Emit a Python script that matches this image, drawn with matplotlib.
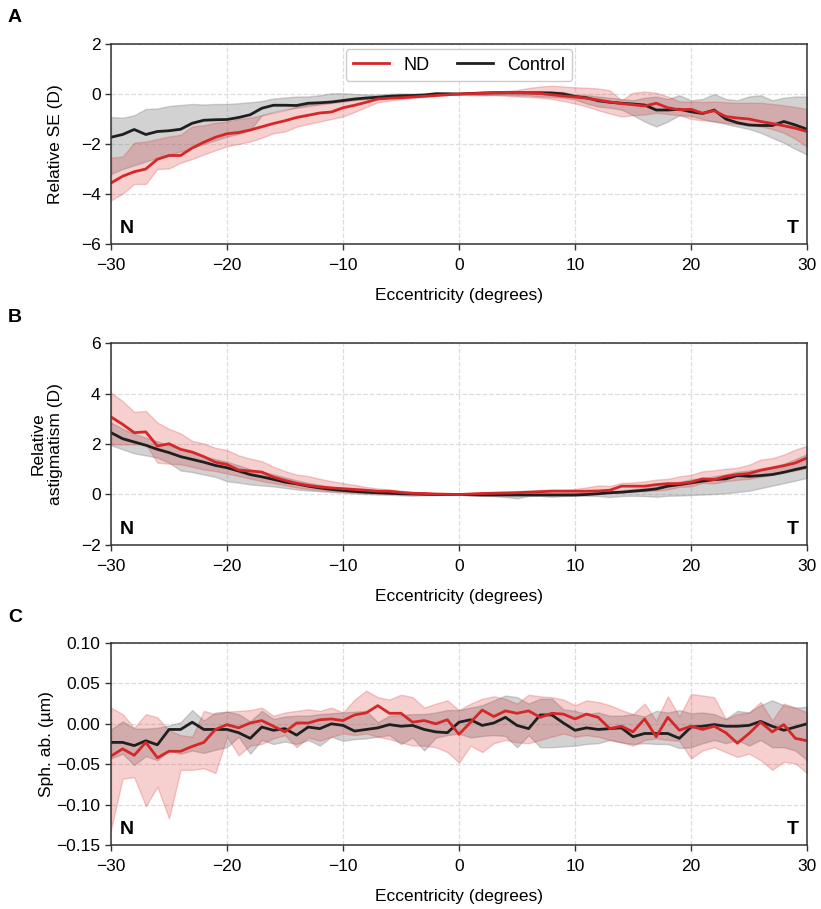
import numpy as np
import matplotlib
matplotlib.use("Agg")
import matplotlib.pyplot as plt

plt.rcParams['font.family'] = ['Liberation Sans', 'DejaVu Sans']

ecc = np.arange(-30, 31)

# panel A: relative spherical equivalent (D)
se_nd = [-3.56, -3.29, -3.11, -3.0, -2.61, -2.46, -2.46, -2.16, -1.93, -1.73, -1.59, -1.54, -1.44, -1.31, -1.18, -1.07,
         -0.94, -0.85, -0.76, -0.72, -0.55, -0.45, -0.33, -0.2, -0.17, -0.15, -0.12, -0.09, -0.06, -0.03, 0.0,
         0.01, 0.03, 0.04, 0.05, 0.05, 0.04, 0.02, -0.03, -0.08, -0.12, -0.17, -0.24, -0.32, -0.38, -0.43,
         -0.48, -0.37, -0.55, -0.63, -0.61, -0.77, -0.67, -0.9, -0.96, -1.0, -1.1, -1.18, -1.27, -1.37, -1.5]
se_nd_lo = [-4.25, -3.99, -3.6, -3.6, -3.0, -2.98, -2.75, -2.6, -2.42, -2.25, -2.09, -2.0, -1.9, -1.75, -1.57, -1.5,
            -1.31, -1.2, -1.1, -1.0, -0.9, -0.72, -0.52, -0.33, -0.27, -0.2, -0.16, -0.12, -0.08, -0.04, 0.0,
            -0.02, -0.04, -0.05, -0.07, -0.1, -0.12, -0.15, -0.2, -0.28, -0.38, -0.5, -0.65, -0.78, -0.9, -0.85,
            -0.82, -0.75, -0.8, -0.85, -1.0, -1.05, -1.1, -1.15, -1.2, -1.25, -1.3, -1.4, -1.55, -1.8, -2.1]
se_nd_hi = [-2.55, -2.5, -1.95, -1.9, -1.8, -1.7, -1.63, -1.3, -1.25, -1.15, -1.1, -1.0, -0.95, -0.85, -0.75, -0.65,
            -0.5, -0.4, -0.35, -0.3, -0.25, -0.2, -0.15, -0.1, -0.08, -0.06, -0.04, -0.02, -0.01, 0.0, 0.0,
            0.03, 0.06, 0.09, 0.12, 0.16, 0.24, 0.3, 0.33, 0.3, 0.27, 0.25, 0.22, 0.15, -0.25, 0.05,
            0.1, 0.05, -0.1, -0.3, -0.3, -0.32, -0.3, -0.33, -0.35, -0.35, -0.35, -0.4, -0.45, -0.52, -0.6]
se_ct = [-1.73, -1.62, -1.42, -1.62, -1.5, -1.47, -1.41, -1.17, -1.05, -1.03, -1.02, -0.94, -0.83, -0.57, -0.45, -0.45,
         -0.46, -0.37, -0.35, -0.32, -0.26, -0.2, -0.16, -0.13, -0.09, -0.07, -0.06, -0.04, 0.01, 0.01, 0.0,
         0.02, 0.04, 0.05, 0.05, 0.05, 0.05, 0.05, 0.04, 0.0, -0.1, -0.15, -0.27, -0.33, -0.37, -0.4,
         -0.44, -0.64, -0.64, -0.61, -0.71, -0.78, -0.64, -1.0, -1.15, -1.24, -1.26, -1.26, -1.1, -1.24, -1.41]
se_ct_lo = [-3.2, -3.0, -2.85, -2.7, -2.55, -2.42, -2.3, -2.15, -2.0, -1.85, -1.7, -1.6, -1.45, -0.85, -0.72, -0.62,
            -0.55, -0.48, -0.42, -0.36, -0.3, -0.25, -0.2, -0.15, -0.12, -0.1, -0.08, -0.06, -0.04, -0.02, 0.0,
            -0.05, -0.05, -0.03, -0.03, -0.05, -0.06, -0.1, -0.12, -0.15, -0.22, -0.38, -0.5, -0.55, -0.62, -0.85,
            -1.1, -1.3, -1.1, -0.85, -0.88, -1.0, -1.1, -1.2, -1.3, -1.4, -1.55, -1.75, -1.95, -2.2, -2.42]
se_ct_hi = [-0.92, -0.95, -0.85, -0.6, -0.58, -0.48, -0.44, -0.4, -0.42, -0.4, -0.4, -0.37, -0.33, -0.28, -0.18, -0.14,
            -0.1, -0.1, -0.05, 0.03, 0.03, 0.0, -0.02, -0.02, 0.0, 0.02, 0.01, 0.02, 0.05, 0.02, 0.0,
            0.06, 0.08, 0.1, 0.1, 0.1, 0.1, 0.1, 0.1, 0.08, -0.02, -0.05, -0.1, -0.15, -0.2, -0.25,
            -0.15, -0.1, -0.2, -0.05, -0.25, -0.2, 0.0, -0.2, -0.25, -0.1, -0.05, -0.25, -0.15, -0.1, -0.1]

# panel B: relative astigmatism (D)
ast_nd = [3.07, 2.78, 2.45, 2.48, 1.92, 2.01, 1.79, 1.68, 1.5, 1.28, 1.19, 0.97, 0.93, 0.89, 0.69, 0.56,
          0.44, 0.36, 0.3, 0.26, 0.23, 0.2, 0.17, 0.13, 0.13, 0.08, 0.05, 0.04, 0.02, 0.01, 0.0,
          0.02, 0.04, 0.05, 0.06, 0.07, 0.09, 0.11, 0.13, 0.13, 0.13, 0.13, 0.14, 0.17, 0.33, 0.33,
          0.33, 0.39, 0.43, 0.43, 0.49, 0.62, 0.59, 0.72, 0.79, 0.83, 0.96, 1.05, 1.14, 1.25, 1.45]
ast_nd_lo = [1.99, 1.99, 1.99, 2.0, 1.26, 1.22, 1.2, 1.1, 0.99, 0.93, 0.83, 0.73, 0.63, 0.53, 0.45, 0.37,
             0.28, 0.22, 0.17, 0.13, 0.11, 0.09, 0.07, 0.05, 0.04, 0.02, 0.01, 0.0, -0.01, 0.0, 0.0,
             -0.01, -0.01, -0.02, -0.01, -0.02, 0.0, 0.01, 0.02, 0.03, 0.04, 0.04, 0.04, 0.06, 0.13, 0.13,
             0.13, 0.16, 0.2, 0.3, 0.32, 0.46, 0.44, 0.53, 0.58, 0.62, 0.7, 0.79, 0.88, 0.95, 1.05]
ast_nd_hi = [4.04, 3.7, 3.27, 3.31, 2.85, 2.6, 2.42, 2.12, 2.02, 1.85, 1.76, 1.55, 1.42, 1.32, 1.1, 0.93,
             0.79, 0.73, 0.62, 0.53, 0.45, 0.38, 0.3, 0.24, 0.2, 0.15, 0.1, 0.07, 0.04, 0.02, 0.0,
             0.05, 0.08, 0.1, 0.12, 0.14, 0.16, 0.18, 0.2, 0.2, 0.22, 0.28, 0.36, 0.34, 0.46, 0.48,
             0.52, 0.59, 0.62, 0.72, 0.78, 0.92, 0.96, 1.02, 1.06, 1.18, 1.38, 1.44, 1.58, 1.78, 1.93]
ast_ct = [2.45, 2.21, 2.08, 1.95, 1.79, 1.66, 1.5, 1.39, 1.28, 1.15, 1.06, 0.93, 0.79, 0.7, 0.6, 0.49,
          0.42, 0.33, 0.26, 0.2, 0.16, 0.12, 0.09, 0.07, 0.05, 0.03, 0.02, 0.01, 0.0, 0.0, 0.0,
          -0.01, -0.02, -0.02, -0.02, -0.02, -0.02, -0.02, -0.02, -0.02, -0.02, 0.0, 0.03, 0.07, 0.09, 0.13,
          0.17, 0.22, 0.33, 0.39, 0.46, 0.53, 0.59, 0.62, 0.75, 0.72, 0.75, 0.79, 0.88, 0.99, 1.09]
ast_ct_lo = [1.95, 1.79, 1.63, 1.55, 1.46, 1.26, 0.95, 0.89, 0.79, 0.7, 0.53, 0.47, 0.4, 0.36, 0.32, 0.26,
             0.2, 0.16, 0.13, 0.1, 0.07, 0.04, 0.02, 0.0, -0.01, -0.03, -0.05, -0.03, -0.02, -0.01, 0.0,
             -0.04, -0.05, -0.06, -0.1, -0.15, -0.06, -0.05, -0.09, -0.06, -0.05, -0.05, -0.06, -0.1, -0.06, -0.05,
             -0.06, -0.09, -0.05, -0.04, -0.02, 0.0, 0.02, 0.05, 0.1, 0.15, 0.25, 0.35, 0.45, 0.55, 0.66]
ast_ct_hi = [2.85, 2.6, 2.4, 2.25, 2.1, 1.95, 1.8, 1.65, 1.52, 1.4, 1.3, 1.15, 1.0, 0.9, 0.8, 0.68,
             0.56, 0.46, 0.38, 0.3, 0.25, 0.2, 0.15, 0.11, 0.08, 0.06, 0.04, 0.02, 0.01, 0.0, 0.0,
             0.02, 0.03, 0.03, 0.04, 0.04, 0.04, 0.05, 0.05, 0.05, 0.05, 0.07, 0.1, 0.14, 0.17, 0.22,
             0.26, 0.32, 0.42, 0.5, 0.6, 0.65, 0.72, 0.8, 0.9, 0.95, 1.02, 1.1, 1.22, 1.4, 1.6]

# panel C: spherical aberration (um)
sa_nd = [-0.040, -0.031, -0.039, -0.023, -0.042, -0.034, -0.034, -0.028, -0.023, -0.007, -0.001, -0.005, 0.001,
         0.004, -0.003, -0.010, 0.001, 0.001, 0.005, 0.006, 0.004, 0.011, 0.0135, 0.0225, 0.013, 0.013, 0.002,
         0.004, 0.0, 0.005, -0.013, 0.002, 0.017, 0.009, 0.016, 0.013, 0.016, 0.008, 0.013, 0.012, 0.006,
         0.012, 0.008, -0.006, -0.003, -0.010, 0.006, -0.016, 0.008, -0.008, -0.003, -0.007, -0.003, -0.011,
         -0.024, -0.012, 0.002, -0.010, -0.001, -0.018, -0.021]
sa_nd_lo = [-0.131, -0.068, -0.066, -0.102, -0.078, -0.117, -0.057, -0.057, -0.055, -0.061, -0.016, -0.039, -0.027,
            -0.025, -0.018, -0.014, -0.029, -0.017, -0.021, -0.016, -0.012, -0.014, -0.012, -0.016, -0.019, -0.023,
            -0.027, -0.027, -0.029, -0.035, -0.048, -0.027, -0.035, -0.024, -0.020, -0.023, -0.024, -0.020, -0.016,
            -0.012, -0.016, -0.014, -0.016, -0.020, -0.023, -0.027, -0.020, -0.018, -0.020, -0.021, -0.043, -0.033,
            -0.029, -0.035, -0.041, -0.037, -0.045, -0.057, -0.047, -0.049, -0.061]
sa_nd_hi = [0.020, 0.012, -0.005, 0.012, 0.008, -0.008, -0.014, -0.016, 0.016, 0.012, 0.015, 0.016, 0.017,
            0.020, 0.010, 0.014, 0.016, 0.018, 0.016, 0.020, 0.014, 0.030, 0.041, 0.033, 0.030, 0.036, 0.033,
            0.020, 0.025, 0.029, 0.017, 0.025, 0.031, 0.034, 0.031, 0.025, 0.036, 0.034, 0.033, 0.030, 0.023,
            0.029, 0.027, 0.023, 0.017, 0.012, 0.025, 0.004, 0.034, 0.009, 0.037, 0.035, 0.033, 0.006, 0.012,
            0.014, 0.027, 0.004, 0.025, 0.020, 0.014]
sa_ct = [-0.023, -0.023, -0.027, -0.021, -0.026, -0.007, -0.007, 0.002, -0.007, -0.007, -0.007, -0.011, -0.018,
         -0.004, -0.008, -0.006, -0.014, -0.004, -0.006, 0.0, -0.002, -0.009, -0.007, -0.005, -0.001, -0.003,
         -0.002, -0.007, -0.010, -0.011, 0.002, 0.005, -0.002, 0.001, 0.008, -0.002, -0.006, 0.011, 0.011,
         0.001, -0.008, -0.005, -0.007, -0.006, -0.005, -0.016, -0.012, -0.012, -0.012, -0.018, -0.004, -0.003,
         -0.001, -0.003, -0.003, -0.002, 0.003, -0.003, -0.008, -0.004, 0.0]
sa_ct_lo = [-0.043, -0.037, -0.051, -0.040, -0.045, -0.033, -0.037, -0.033, -0.036, -0.032, -0.029, -0.016, -0.037,
            -0.020, -0.025, -0.022, -0.025, -0.020, -0.027, -0.016, -0.021, -0.019, -0.018, -0.016, -0.014, -0.025,
            -0.017, -0.033, -0.017, -0.014, -0.012, -0.017, -0.015, -0.014, -0.015, -0.029, -0.014, -0.029, -0.029,
            -0.028, -0.027, -0.025, -0.024, -0.020, -0.023, -0.025, -0.024, -0.025, -0.025, -0.030, -0.029, -0.024,
            -0.020, -0.024, -0.020, -0.027, -0.020, -0.029, -0.029, -0.033, -0.045]
sa_ct_hi = [-0.007, 0.003, -0.006, -0.006, -0.005, -0.002, 0.002, 0.017, 0.004, 0.014, 0.015, 0.012, 0.003,
            0.016, 0.006, 0.009, 0.010, 0.010, 0.012, 0.013, 0.014, 0.015, 0.016, 0.002, 0.010, 0.011, 0.012,
            0.012, 0.014, 0.017, 0.017, 0.020, 0.023, 0.029, 0.035, 0.033, 0.025, 0.031, 0.031, 0.018, 0.016,
            0.012, 0.014, 0.010, 0.010, 0.012, 0.009, 0.016, 0.014, 0.017, 0.013, 0.014, 0.012, 0.006, 0.016,
            0.014, 0.023, 0.029, 0.023, 0.020, 0.021]

red = '#d62728'
dark = '#1f1f1f'

fig = plt.figure(figsize=(8.21, 9.09), dpi=100)
left, width = 111 / 821, 696 / 821
tops = [44, 343, 643]
heights = [200, 202, 202]

panels = [
    (se_nd, se_nd_lo, se_nd_hi, se_ct, se_ct_lo, se_ct_hi, 'Relative SE (D)', (-6, 2), np.arange(-6, 3, 2), '%d'),
    (ast_nd, ast_nd_lo, ast_nd_hi, ast_ct, ast_ct_lo, ast_ct_hi, 'Relative\nastigmatism (D)', (-2, 6), np.arange(-2, 7, 2), '%d'),
    (sa_nd, sa_nd_lo, sa_nd_hi, sa_ct, sa_ct_lo, sa_ct_hi, 'Sph. ab. (µm)', (-0.15, 0.10), np.arange(-0.15, 0.101, 0.05), '%.2f'),
]
axes = []
for i, (nd, ndlo, ndhi, ct, ctlo, cthi, ylab, ylim, yt, fmt) in enumerate(panels):
    ax = fig.add_axes([left, 1 - (tops[i] + heights[i]) / 909, width, heights[i] / 909])
    axes.append(ax)
    ax.fill_between(ecc, ctlo, cthi, color='gray', alpha=0.35, lw=1)
    ax.plot(ecc, ct, color=dark, lw=2, label='Control')
    ax.fill_between(ecc, ndlo, ndhi, color=red, alpha=0.22, lw=1)
    ax.plot(ecc, nd, color=red, lw=2, label='ND')
    ax.set_xlim(-30, 30)
    ax.set_ylim(*ylim)
    ax.set_yticks(yt)
    ax.set_yticklabels([(fmt % v).replace('-', '\u2212') for v in yt])
    ax.set_xticks(np.arange(-30, 31, 10))
    ax.grid(True, ls='--', color='#dddddd', lw=0.9)
    ax.set_axisbelow(True)
    if i < 2:
        ax.set_ylabel(ylab, fontsize=12.5)
        ax.yaxis.set_label_coords(-0.069, 0.5)
    else:
        ax.set_ylabel(ylab, fontsize=12.5, labelpad=2)
    ax.set_xlabel('Eccentricity (degrees)', fontsize=12.5, labelpad=11)
    ax.tick_params(labelsize=12.5, length=4, width=1, color='#333333')
    ax.tick_params(axis='x', pad=6)
    for s in ax.spines.values():
        s.set_color('#333333')
        s.set_linewidth(1.1)
    ax.text(0.012, 0.035, 'N', transform=ax.transAxes, fontsize=14, fontweight='bold', ha='left', va='bottom')
    ax.text(0.988, 0.035, 'T', transform=ax.transAxes, fontsize=14, fontweight='bold', ha='right', va='bottom')
    fig.text(8 / 821, 1 - (tops[i] - 26) / 909, 'ABC'[i], fontsize=14, fontweight='bold', ha='left', va='center')

h, l = axes[0].get_legend_handles_labels()
axes[0].legend(h[::-1], l[::-1], loc='upper center', ncol=2, fontsize=13, handlelength=2.0,
               borderaxespad=0.3, columnspacing=1.5, framealpha=1, edgecolor='#cccccc')

fig.savefig('out.png', dpi=100)
